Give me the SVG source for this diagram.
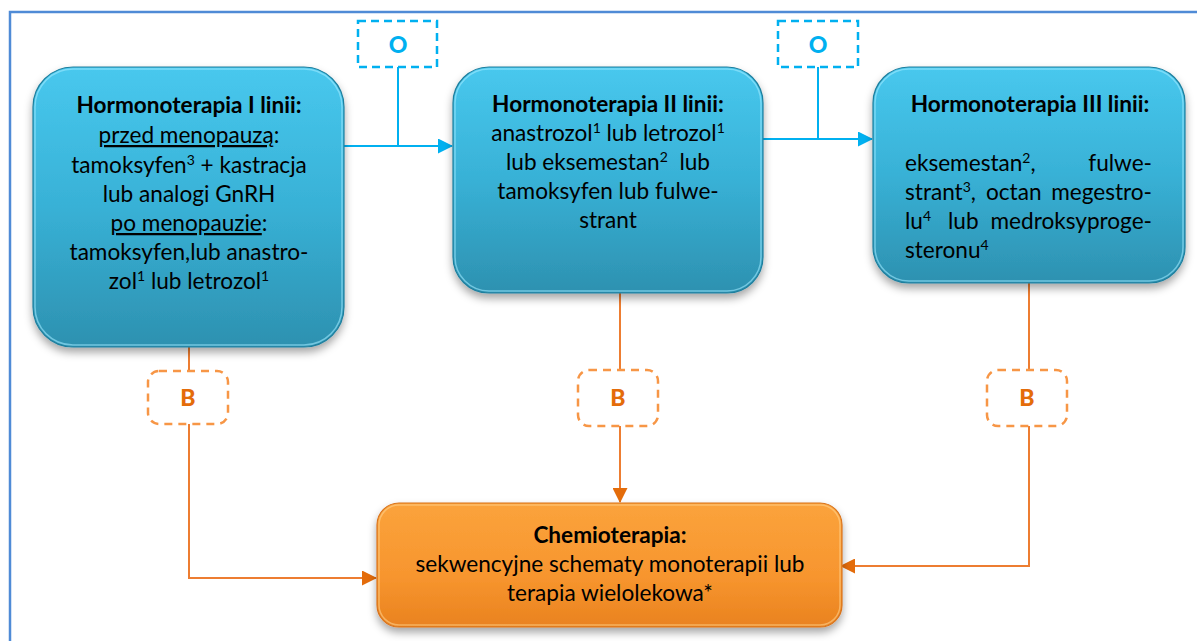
<svg xmlns="http://www.w3.org/2000/svg" width="1197" height="641" viewBox="0 0 1197 641">
<style>
.t{font-family:Lato,"Liberation Sans",sans-serif;font-size:22.6px;fill:#000}
.b{font-weight:bold}
.c{text-anchor:middle}
.e{text-anchor:end}
.s{font-size:14px}
.bl{fill:none;stroke:#00b0f0;stroke-width:2}
.or{fill:none;stroke:#ed7d31;stroke-width:2}
.od{fill:#fff;stroke:#00b0f0;stroke-width:2.5;stroke-dasharray:8 5}
.bd{fill:#fff;stroke:#f79646;stroke-width:2.5;stroke-dasharray:8 6}
.lo{font-family:Lato,"Liberation Sans",sans-serif;font-size:23px;font-weight:900;fill:#00b0f0;text-anchor:middle}
.lb{font-family:Lato,"Liberation Sans",sans-serif;font-size:23px;font-weight:900;fill:#e46c0a;text-anchor:middle}
.nb{fill:url(#gb);stroke:#1f7f9e;stroke-width:1.2;filter:url(#sh)}
.no{fill:url(#go);stroke:#d8731b;stroke-width:1.2;filter:url(#sh)}
.hl{fill:none;stroke:#9eeaff;stroke-width:1.5;opacity:0.6}
.hlo{fill:none;stroke:#ffd08a;stroke-width:1.5;opacity:0.6}
</style>
<defs>
<linearGradient id="gb" x1="0" y1="0" x2="0" y2="1">
<stop offset="0" stop-color="#48c8ee"/>
<stop offset="0.5" stop-color="#38b1d6"/>
<stop offset="1" stop-color="#2d91b0"/>
</linearGradient>
<linearGradient id="go" x1="0" y1="0" x2="0" y2="1">
<stop offset="0" stop-color="#fba33c"/>
<stop offset="0.6" stop-color="#f7952e"/>
<stop offset="1" stop-color="#e9821f"/>
</linearGradient>
<filter id="sh" x="-10%" y="-10%" width="120%" height="125%">
<feDropShadow dx="0" dy="5" stdDeviation="4" flood-color="#000" flood-opacity="0.35"/>
</filter>
<marker id="ab" markerWidth="15" markerHeight="15" refX="14" refY="7.5" orient="auto" markerUnits="userSpaceOnUse" viewBox="0 0 15 15">
<path d="M0,0 L15,7.5 L0,15 Z" fill="#00b0f0"/>
</marker>
<marker id="ao" markerWidth="15" markerHeight="15" refX="14" refY="7.5" orient="auto" markerUnits="userSpaceOnUse" viewBox="0 0 15 15">
<path d="M0,0 L15,7.5 L0,15 Z" fill="#e46c0a"/>
</marker>
</defs>
<rect width="1197" height="641" fill="#fff"/>
<path d="M10,641 V12 H1197" fill="none" stroke="#4f8bd6" stroke-width="2.5"/>

<g id="connectors">
<path class="bl" d="M344,146 H452" marker-end="url(#ab)"/>
<path class="bl" d="M398,67 V146"/>
<path class="bl" d="M763,139 H872" marker-end="url(#ab)"/>
<path class="bl" d="M818,67 V139"/>
<path class="or" d="M189,347 V371 M189,424 V578 H376" marker-end="url(#ao)"/>
<path class="or" d="M620,293 V370 M620,426 V502" marker-end="url(#ao)"/>
<path class="or" d="M1029,283 V370 M1029,426 V566 H841" marker-end="url(#ao)"/>
</g>

<g id="label-o1">
<rect class="od" x="358" y="21" width="79" height="46"/>
<text class="lo" x="398" y="53">O</text>
</g>
<g id="label-o2">
<rect class="od" x="778" y="21" width="80" height="46"/>
<text class="lo" x="818" y="53">O</text>
</g>
<g id="label-b1">
<rect class="bd" x="148" y="371" width="80" height="53" rx="11"/>
<text class="lb" x="188" y="406">B</text>
</g>
<g id="label-b2">
<rect class="bd" x="578" y="370" width="80" height="56" rx="11"/>
<text class="lb" x="618" y="406">B</text>
</g>
<g id="label-b3">
<rect class="bd" x="987" y="370" width="80" height="56" rx="11"/>
<text class="lb" x="1027" y="406">B</text>
</g>

<g id="node-h1">
<rect class="nb" x="33" y="67" width="311" height="280" rx="40"/>
<rect class="hl" x="35" y="69" width="307" height="276" rx="38"/>
<text class="t c b" x="189" y="113">Hormonoterapia I linii:</text>
<text class="t c" x="189" y="143"><tspan text-decoration="underline">przed menopauzą</tspan>:</text>
<text class="t c" x="189" y="173">tamoksyfen<tspan class="s" dy="-8">3</tspan><tspan dy="8"> + kastracja</tspan></text>
<text class="t c" x="189" y="202">lub analogi GnRH</text>
<text class="t c" x="189" y="231"><tspan text-decoration="underline">po menopauzie</tspan>:</text>
<text class="t c" x="189" y="260">tamoksyfen,lub anastro-</text>
<text class="t c" x="189" y="289">zol<tspan class="s" dy="-8">1</tspan><tspan dy="8"> lub letrozol</tspan><tspan class="s" dy="-8">1</tspan></text>
</g>

<g id="node-h2">
<rect class="nb" x="453" y="67" width="310" height="226" rx="36"/>
<rect class="hl" x="455" y="69" width="306" height="222" rx="34"/>
<text class="t c b" x="608" y="112">Hormonoterapia II linii:</text>
<text class="t c" x="608" y="141">anastrozol<tspan class="s" dy="-8">1</tspan><tspan dy="8"> lub letrozol</tspan><tspan class="s" dy="-8">1</tspan></text>
<text class="t c" x="608" y="170">lub eksemestan<tspan class="s" dy="-8">2</tspan><tspan dy="8">&#160; lub</tspan></text>
<text class="t c" x="608" y="199">tamoksyfen lub fulwe-</text>
<text class="t c" x="608" y="228">strant</text>
</g>

<g id="node-h3">
<rect class="nb" x="873" y="67" width="312" height="216" rx="36"/>
<rect class="hl" x="875" y="69" width="308" height="212" rx="34"/>
<text class="t c b" x="1030" y="112">Hormonoterapia III linii:</text>
<text class="t" x="905" y="171">eksemestan<tspan class="s" dy="-8">2</tspan><tspan dy="8">,</tspan></text>
<text class="t e" x="1152" y="171">fulwe-</text>
<text class="t" x="905" y="200">strant<tspan class="s" dy="-8">3</tspan><tspan dy="8">,</tspan></text>
<text class="t" x="986" y="200">octan</text>
<text class="t e" x="1152" y="200">megestro-</text>
<text class="t" x="905" y="229">lu<tspan class="s" dy="-8">4</tspan></text>
<text class="t" x="948" y="229">lub</text>
<text class="t e" x="1152" y="229">medroksyproge-</text>
<text class="t" x="905" y="258">steronu<tspan class="s" dy="-8">4</tspan></text>
</g>

<g id="node-chemio">
<rect class="no" x="377" y="503" width="465" height="124" rx="22"/>
<rect class="hlo" x="379" y="505" width="461" height="120" rx="20"/>
<text class="t c b" x="610" y="543">Chemioterapia:</text>
<text class="t c" x="610" y="572">sekwencyjne schematy monoterapii lub</text>
<text class="t c" x="610" y="601">terapia wielolekowa*</text>
</g>
</svg>
